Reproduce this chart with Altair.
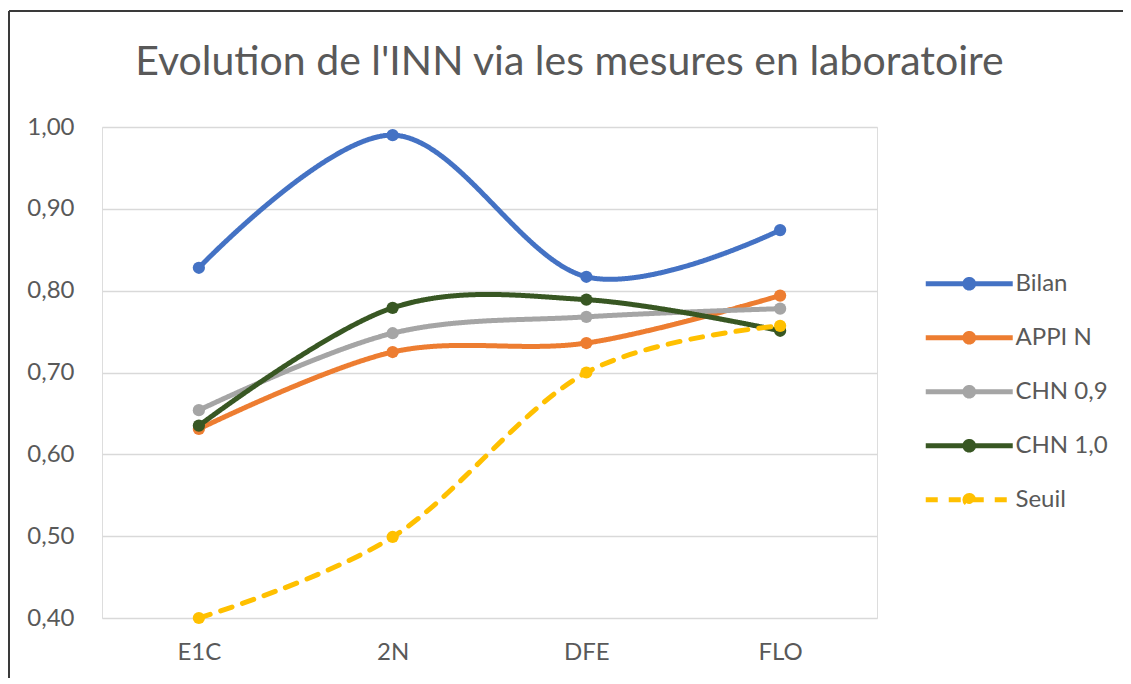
import altair as alt
import pandas as pd

categories = ["E1C", "2N", "DFE", "FLO"]
series_names = ["Bilan", "APPI N", "CHN 0,9", "CHN 1,0", "Seuil"]
bilan = [0.828, 0.990, 0.817, 0.874]
appi_n = [0.631, 0.725, 0.736, 0.794]
chn_09 = [0.654, 0.748, 0.768, 0.778]
chn_10 = [0.635, 0.779, 0.789, 0.751]
seuil = [0.400, 0.499, 0.700, 0.757]
y_ticks = [0.4, 0.5, 0.6, 0.7, 0.8, 0.9, 1.0]

colors = ["#4472C4", "#ED7D31", "#A5A5A5", "#385723", "#FFC000"]
dashes = [[1, 0], [1, 0], [1, 0], [1, 0], [12, 11]]

rows = []
for name, vals in zip(series_names, [bilan, appi_n, chn_09, chn_10, seuil]):
    for i, (c, v) in enumerate(zip(categories, vals)):
        rows.append({"serie": name, "stade": c, "idx": i, "inn": v})
df = pd.DataFrame(rows)

FONT = "Lato"
TXT = "#595959"
FS = 24
W, H = 775, 491

sym_path = ("M-2,0L2,0M-0.2,0A0.2,0.2,0,1,1,0.2,0"
            "A0.2,0.2,0,1,1,-0.2,0Z")

legend = alt.Legend(
    orient="none", legendX=842.75, legendY=132.25, title=None,
    symbolType=sym_path, symbolSize=1892, symbolStrokeWidth=5,
    labelFont=FONT, labelFontSize=FS, labelColor=TXT, labelOffset=21.75,
    padding=0, rowPadding=15,
)

x_enc = alt.X("stade:N", sort=categories,
              scale=alt.Scale(type="point", padding=0.5),
              axis=alt.Axis(title=None, domain=False, ticks=False, labelAngle=0,
                            labelFont=FONT, labelFontSize=FS, labelColor=TXT,
                            labelPadding=22))
y_enc = alt.Y("inn:Q", scale=alt.Scale(domain=[0.4, 1.0], nice=False, zero=False),
              axis=alt.Axis(title=None, values=y_ticks, domain=False, ticks=False,
                            grid=True, gridColor="#D9D9D9", gridWidth=1.5,
                            labelExpr="replace(format(datum.value, '.2f'), '.', ',')",
                            labelFont=FONT, labelFontSize=FS, labelColor=TXT,
                            labelPadding=28))
color_enc = alt.Color("serie:N", scale=alt.Scale(domain=series_names, range=colors),
                      legend=legend)
dash_enc = alt.StrokeDash("serie:N", scale=alt.Scale(domain=series_names, range=dashes),
                          legend=legend)

base = alt.Chart(df)
lines = base.mark_line(interpolate="cardinal", strokeWidth=5, strokeCap="round",
                       strokeJoin="round").encode(
    x=x_enc, y=y_enc, color=color_enc, strokeDash=dash_enc, order="idx:Q")
points = base.mark_point(filled=True, size=150, opacity=1).encode(
    x=x_enc, y=y_enc, color=color_enc)

frame_top = alt.Chart(pd.DataFrame({"k": [0]})).mark_rule(color="#3a3a3a", strokeWidth=2).encode(
    x=alt.value(-93), x2=alt.value(1040), y=alt.value(-116))
frame_left = alt.Chart(pd.DataFrame({"k": [0]})).mark_rule(color="#3a3a3a", strokeWidth=2).encode(
    x=alt.value(-93), y=alt.value(-116), y2=alt.value(570))

chart = alt.layer(lines, points, frame_top, frame_left).properties(
    width=W, height=H,
    title=alt.Title("Evolution de l'INN via les mesures en laboratoire",
                    font=FONT, fontSize=41, fontWeight="normal", color=TXT,
                    anchor="middle", dx=80, offset=20, baseline="alphabetic", dy=126),
    autosize=alt.AutoSizeParams(type="none"),
    padding={"left": 94, "top": 119, "right": 246, "bottom": 60},
).configure_view(stroke=None).configure(background="white")

chart.save("out.html", embed_options={"renderer": "svg", "actions": False})
